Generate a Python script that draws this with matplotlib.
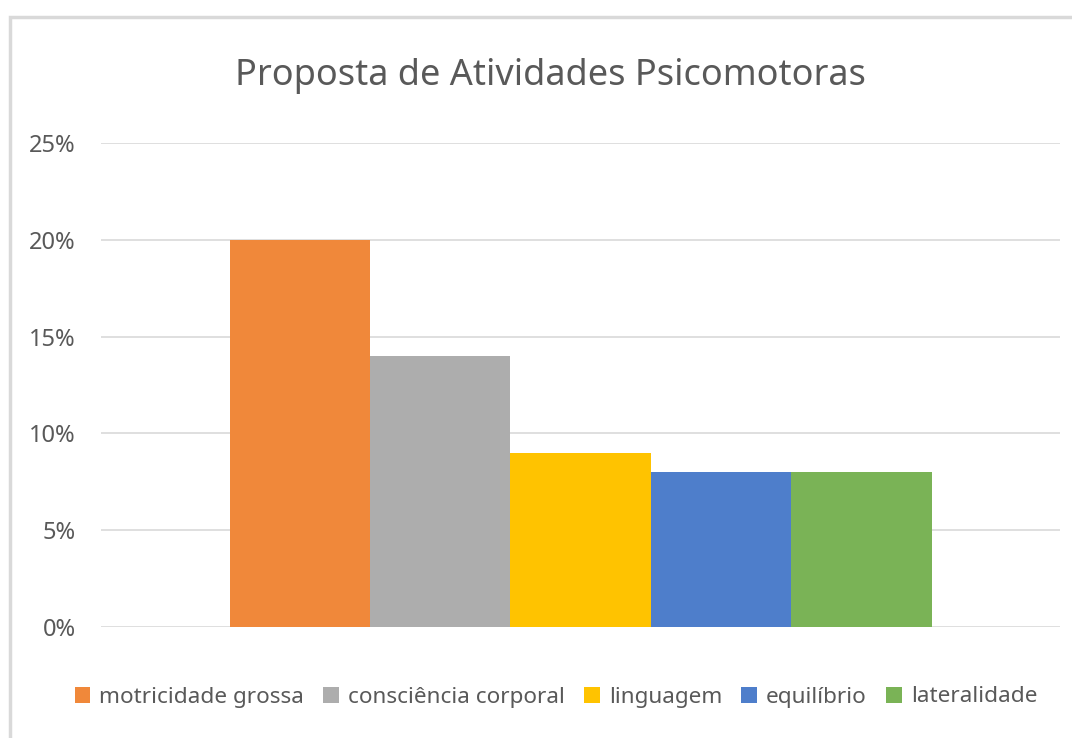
import matplotlib
matplotlib.use("Agg")
import matplotlib.pyplot as plt
from matplotlib.patches import Rectangle
from matplotlib.ticker import FuncFormatter

categories = ["motricidade grossa", "consciência corporal", "linguagem", "equilíbrio", "lateralidade"]
values = [0.20, 0.14, 0.09, 0.08, 0.08]
colors = ["#F0883A", "#ADADAD", "#FFC300", "#4E7ECB", "#7AB356"]
yticks = [0, 0.05, 0.10, 0.15, 0.20, 0.25]

plt.rcParams['font.family'] = ['Noto Sans', 'DejaVu Sans']

W, H = 1072, 738
fig = plt.figure(figsize=(W / 100, H / 100), dpi=100)
fig.patch.set_facecolor("white")

# chart frame
fig.patches.append(Rectangle((10 / W, -0.1), 1.2, 1 - 17 / H + 0.1, transform=fig.transFigure,
                             fill=False, edgecolor="#D9D9D9", linewidth=2.5))

ax = fig.add_axes([101 / W, 1 - 627 / H, (1060 - 101) / W, (627 - 143) / H])
ax.set_xlim(-0.5, 0.5)
ax.set_ylim(0, 0.25)

group = 702 / 959
bw = group / len(values)
for i, (c, v, col) in enumerate(zip(categories, values, colors)):
    x = -group / 2 + bw * (i + 0.5)
    ax.bar(x, v, width=bw, color=col, label=c, zorder=3)

ax.set_yticks(yticks)
ax.yaxis.set_major_formatter(FuncFormatter(lambda v, p: f"{v*100:.0f}%"))
ax.grid(axis="y", color="#D9D9D9", linewidth=1.2, zorder=0)
ax.set_xticks([])
for s in ax.spines.values():
    s.set_visible(False)
ax.tick_params(axis="y", length=0, pad=18, labelsize=17, labelcolor="#595959")

fig.text(550 / W, 1 - 76 / H, "Proposta de Atividades Psicomotoras", ha="center", va="center",
         fontsize=26, color="#595959")

leg = fig.legend(loc="center", bbox_to_anchor=(556 / W, 1 - 697 / H), ncol=5, frameon=False,
                 fontsize=16.2, handlelength=0.7, handleheight=0.7, handletextpad=0.4,
                 columnspacing=0.85, labelcolor="#595959")

fig.savefig("out.png", dpi=100, facecolor="white")
